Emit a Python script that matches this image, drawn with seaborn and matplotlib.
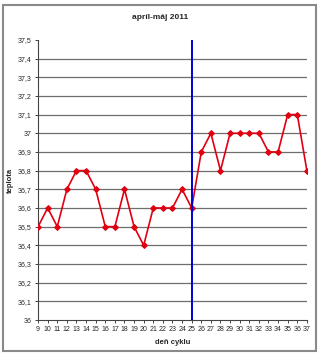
import matplotlib
matplotlib.use("Agg")
import matplotlib.pyplot as plt
import seaborn as sns
import pandas as pd
from matplotlib.patches import Rectangle

days = list(range(9, 38))
temps = [36.5, 36.6, 36.5, 36.7, 36.8, 36.8, 36.7, 36.5, 36.5, 36.7, 36.5, 36.4,
         36.6, 36.6, 36.6, 36.7, 36.6, 36.9, 37.0, 36.8, 37.0, 37.0, 37.0, 37.0,
         36.9, 36.9, 37.1, 37.1, 36.8]
yticks = [36.0, 36.1, 36.2, 36.3, 36.4, 36.5, 36.6, 36.7, 36.8, 36.9, 37.0,
          37.1, 37.2, 37.3, 37.4, 37.5]
marker_day = 25
title = "apríl-máj 2011"
xlabel = "deň cyklu"
ylabel = "teplota"

sns.set_style("white")
plt.rcParams['font.family'] = ['Liberation Sans', 'DejaVu Sans']

df = pd.DataFrame({"day": days, "temp": temps})

fig = plt.figure(figsize=(3.2, 3.56), dpi=100)
ax = fig.add_axes([0.119, 0.101, 0.840, 0.787])

for y in yticks[1:-1]:
    ax.axhline(y, color="#6e6e6e", lw=0.9, zorder=1)

sns.lineplot(data=df, x="day", y="temp", ax=ax, color="#e00010", lw=1.2,
             marker="D", markersize=3.0, markeredgecolor="#e00010", zorder=3)
ax.plot([marker_day, marker_day], [yticks[0], yticks[-1]], color="#0000d0",
        lw=1.4, zorder=4)

ax.set_xlim(days[0], days[-1])
ax.set_ylim(yticks[0], yticks[-1])
ax.set_xticks(days)
ax.set_xticklabels([str(d) for d in days], fontsize=5)
ax.set_yticks(yticks)

def fmt(v):
    s = f"{v:.1f}"
    if s.endswith(".0"):
        s = s[:-2]
    return s.replace(".", ",")

ax.set_yticklabels([fmt(v) for v in yticks], fontsize=5)
ax.tick_params(axis="both", length=2.5, width=0.7, color="#444444", pad=2,
               direction="out", left=True, bottom=True)
for s in ["top", "right"]:
    ax.spines[s].set_visible(False)
for s in ["left", "bottom"]:
    ax.spines[s].set_color("#444444")
    ax.spines[s].set_linewidth(0.8)

ax.set_xlabel(xlabel, fontsize=5.5, fontweight="bold", labelpad=4)
ax.set_ylabel(ylabel, fontsize=5.5, fontweight="bold", labelpad=3)
fig.text(0.5, 0.952, title, ha="center", va="center", fontsize=6, fontweight="bold")

fig.patches.append(Rectangle((0.01, 0.015), 0.978, 0.972, transform=fig.transFigure,
                             fill=False, edgecolor="#8a8a8a", lw=1.5))

fig.savefig("out.png", dpi=100)
